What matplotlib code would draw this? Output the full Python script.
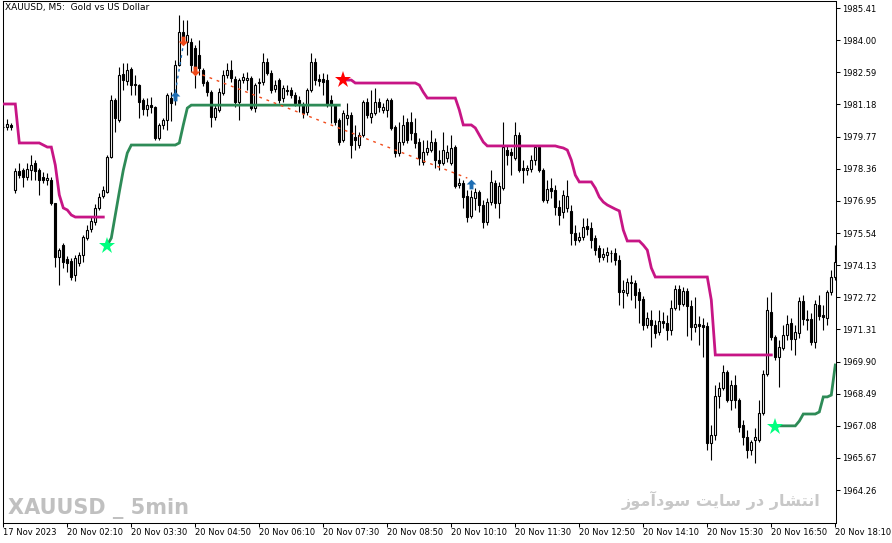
import numpy as np
import matplotlib
matplotlib.use('Agg')
import matplotlib.pyplot as plt
from matplotlib.path import Path

# XAUUSD M5 bars (bar 0 = 17 Nov close, bar 3 = Monday open gap)
opens = [
    1980.19, 1980.19, 1980.28, 1977.43, 1978.26, 1978.30, 1977.99, 1978.30, 1978.61, 1978.30,
    1977.99, 1977.86, 1977.86, 1976.86, 1974.49, 1975.01, 1974.40, 1974.31, 1973.70, 1974.23,
    1974.57, 1975.32, 1975.72, 1976.02, 1976.64, 1977.16, 1977.34, 1978.87, 1981.37, 1980.50,
    1982.51, 1982.21, 1982.73, 1982.03, 1982.03, 1981.37, 1980.98, 1981.15, 1981.07, 1979.71,
    1980.28, 1980.50, 1981.46, 1981.51, 1982.91, 1984.36, 1983.92, 1983.92, 1983.65, 1983.35,
    1982.69, 1982.16, 1981.72, 1980.63, 1980.94, 1981.68, 1982.47, 1982.69, 1982.30, 1981.29,
    1982.25, 1982.25, 1982.34, 1981.02, 1982.12, 1982.16, 1983.04, 1982.56, 1981.86, 1982.25,
    1981.46, 1981.77, 1981.81, 1981.59, 1981.37, 1981.15, 1980.85, 1981.81, 1983.04, 1982.30,
    1982.30, 1982.25, 1981.37, 1981.15, 1980.50, 1979.62, 1980.58, 1980.72, 1979.75, 1979.40,
    1979.84, 1981.29, 1980.63, 1980.80, 1981.29, 1980.94, 1980.94, 1981.37, 1980.19, 1979.05,
    1979.53, 1980.41, 1980.41, 1979.93, 1979.53, 1978.65, 1979.09, 1979.18, 1979.53, 1978.74,
    1978.61, 1978.83, 1978.61, 1979.31, 1977.65, 1977.73, 1977.16, 1976.29, 1977.08, 1977.34,
    1976.77, 1976.02, 1976.90, 1977.73, 1976.86, 1977.52, 1979.18, 1979.09, 1978.83, 1979.84,
    1978.39, 1978.30, 1978.35, 1978.74, 1979.31, 1978.30, 1976.99, 1977.52, 1977.43, 1976.68,
    1976.46, 1976.64, 1976.51, 1975.54, 1975.23, 1975.37, 1975.85, 1975.76, 1975.32, 1974.88,
    1974.49, 1974.57, 1974.66, 1974.66, 1974.36, 1972.95, 1972.91, 1973.39, 1973.35, 1972.95,
    1972.65, 1971.50, 1971.72, 1971.50, 1971.20, 1971.68, 1971.59, 1971.29, 1972.25, 1973.08,
    1972.43, 1972.99, 1972.33, 1971.42, 1971.55, 1971.50, 1971.46, 1966.33, 1966.68, 1968.39,
    1968.74, 1969.44, 1968.22, 1968.87, 1968.22, 1967.12, 1966.59, 1966.02, 1966.46, 1966.46,
    1967.65, 1969.36, 1972.08, 1970.98, 1970.10, 1970.50, 1971.07, 1971.59, 1970.89, 1971.15,
    1972.56, 1971.72, 1971.77, 1970.76, 1972.38, 1971.94, 1971.81, 1972.95, 1973.61,
]
highs = [
    1980.37, 1980.54, 1980.37, 1978.39, 1978.61, 1978.39, 1978.61, 1978.96, 1978.74, 1978.39,
    1978.22, 1978.17, 1977.99, 1976.86, 1974.88, 1975.10, 1974.53, 1974.44, 1974.57, 1974.71,
    1975.45, 1975.89, 1976.24, 1976.81, 1977.30, 1977.60, 1978.96, 1981.59, 1981.46, 1982.82,
    1983.00, 1983.00, 1982.82, 1982.47, 1982.08, 1981.46, 1981.46, 1981.51, 1981.11, 1980.37,
    1980.58, 1981.68, 1981.72, 1983.13, 1985.10, 1984.88, 1984.88, 1984.09, 1983.79, 1984.01,
    1982.78, 1982.25, 1981.81, 1981.20, 1981.90, 1982.69, 1983.00, 1983.13, 1982.43, 1982.34,
    1982.56, 1982.60, 1982.43, 1982.12, 1982.34, 1983.44, 1983.22, 1982.69, 1982.25, 1982.34,
    1982.03, 1982.03, 1981.94, 1981.72, 1981.55, 1981.29, 1981.90, 1983.44, 1983.22, 1982.51,
    1982.56, 1982.51, 1981.59, 1981.20, 1980.58, 1980.94, 1981.24, 1980.85, 1980.28, 1979.97,
    1981.37, 1981.46, 1981.81, 1981.90, 1981.46, 1981.24, 1981.46, 1981.46, 1980.28, 1980.41,
    1980.72, 1980.58, 1980.85, 1980.58, 1979.71, 1979.62, 1979.62, 1980.06, 1979.71, 1979.18,
    1979.97, 1979.40, 1979.84, 1979.40, 1977.95, 1977.86, 1977.43, 1977.43, 1977.52, 1977.43,
    1976.99, 1977.08, 1978.30, 1977.86, 1977.78, 1980.41, 1979.40, 1979.27, 1980.41, 1979.97,
    1978.74, 1978.52, 1978.96, 1979.40, 1979.40, 1978.39, 1977.86, 1977.95, 1977.65, 1976.99,
    1977.43, 1977.86, 1976.77, 1975.89, 1975.58, 1976.20, 1976.20, 1976.02, 1975.45, 1975.01,
    1974.88, 1974.93, 1974.79, 1974.88, 1974.57, 1973.48, 1973.57, 1973.70, 1973.48, 1973.13,
    1972.78, 1972.08, 1972.16, 1971.72, 1972.16, 1972.08, 1971.94, 1972.60, 1973.26, 1973.26,
    1973.17, 1973.13, 1972.60, 1972.73, 1971.90, 1971.81, 1971.64, 1967.12, 1968.87, 1969.01,
    1969.75, 1969.53, 1969.09, 1969.31, 1968.30, 1967.34, 1966.90, 1966.46, 1966.99, 1968.22,
    1969.53, 1972.73, 1972.95, 1971.07, 1970.85, 1971.50, 1971.94, 1971.81, 1971.50, 1972.73,
    1972.82, 1972.16, 1972.03, 1972.60, 1972.82, 1972.38, 1973.04, 1973.92, 1975.01,
]
lows = [
    1980.01, 1980.06, 1980.06, 1977.30, 1977.95, 1977.56, 1977.86, 1977.86, 1977.86, 1977.21,
    1977.73, 1977.65, 1976.77, 1974.05, 1973.26, 1974.01, 1973.83, 1973.48, 1973.44, 1974.09,
    1974.27, 1975.23, 1975.58, 1975.89, 1976.55, 1977.08, 1977.30, 1978.83, 1979.97, 1980.41,
    1981.81, 1982.03, 1981.59, 1981.59, 1980.58, 1980.72, 1980.67, 1980.80, 1979.62, 1979.62,
    1980.10, 1980.06, 1980.45, 1981.15, 1982.87, 1983.92, 1983.35, 1982.60, 1981.90, 1982.47,
    1981.99, 1981.55, 1980.19, 1980.50, 1980.85, 1981.59, 1982.34, 1982.16, 1981.07, 1980.50,
    1982.12, 1981.81, 1980.94, 1980.85, 1981.68, 1982.03, 1982.47, 1981.68, 1981.72, 1981.24,
    1981.29, 1981.59, 1981.46, 1981.11, 1980.85, 1980.58, 1980.72, 1981.72, 1982.03, 1981.99,
    1981.59, 1981.07, 1980.37, 1980.28, 1979.40, 1979.53, 1980.28, 1978.83, 1979.18, 1979.27,
    1979.75, 1980.58, 1980.37, 1980.72, 1980.85, 1980.80, 1980.63, 1980.06, 1978.87, 1978.92,
    1979.40, 1979.49, 1979.62, 1979.27, 1978.52, 1978.52, 1978.96, 1979.09, 1978.39, 1978.30,
    1978.52, 1978.65, 1978.52, 1977.52, 1977.52, 1976.64, 1976.02, 1976.20, 1976.55, 1976.46,
    1975.76, 1975.89, 1976.77, 1976.64, 1976.20, 1977.43, 1978.52, 1978.08, 1978.74, 1978.22,
    1977.73, 1978.08, 1978.22, 1978.52, 1978.22, 1976.90, 1976.86, 1977.08, 1976.33, 1975.89,
    1976.20, 1976.46, 1975.01, 1975.01, 1975.15, 1975.23, 1975.45, 1974.88, 1974.57, 1974.27,
    1974.36, 1974.27, 1974.27, 1974.14, 1972.38, 1972.25, 1972.78, 1972.60, 1972.25, 1971.59,
    1971.29, 1971.37, 1970.54, 1970.94, 1971.07, 1971.37, 1970.85, 1971.07, 1972.16, 1972.16,
    1972.33, 1971.02, 1970.85, 1971.20, 1970.63, 1970.10, 1966.02, 1965.58, 1966.46, 1967.87,
    1968.65, 1968.13, 1967.78, 1967.87, 1966.81, 1966.24, 1965.67, 1965.80, 1965.45, 1966.37,
    1967.56, 1969.27, 1970.85, 1969.97, 1968.79, 1970.41, 1970.85, 1970.41, 1970.19, 1970.94,
    1971.50, 1971.29, 1970.63, 1970.50, 1971.72, 1971.29, 1971.50, 1972.82, 1973.48,
]
closes = [
    1980.19, 1980.32, 1980.19, 1978.26, 1978.08, 1977.99, 1978.35, 1978.52, 1978.26, 1977.86,
    1977.86, 1977.95, 1976.86, 1974.49, 1974.79, 1974.27, 1974.23, 1973.61, 1974.44, 1974.57,
    1975.37, 1975.67, 1976.07, 1976.64, 1977.12, 1977.43, 1978.87, 1981.37, 1980.58, 1982.47,
    1982.25, 1982.69, 1982.03, 1982.08, 1981.29, 1980.98, 1981.15, 1981.07, 1979.71, 1980.28,
    1980.50, 1981.59, 1981.24, 1982.91, 1984.36, 1984.09, 1984.23, 1982.91, 1982.56, 1982.78,
    1982.12, 1981.72, 1980.63, 1981.02, 1981.72, 1982.47, 1982.69, 1982.34, 1981.29, 1982.25,
    1982.38, 1982.34, 1981.02, 1982.03, 1982.16, 1983.04, 1982.56, 1981.81, 1982.03, 1981.37,
    1981.90, 1981.81, 1981.59, 1981.24, 1981.24, 1980.80, 1981.81, 1983.04, 1982.25, 1982.21,
    1982.16, 1981.15, 1981.15, 1980.41, 1979.53, 1980.80, 1980.72, 1979.40, 1979.62, 1979.84,
    1981.29, 1980.72, 1980.80, 1981.29, 1981.07, 1981.07, 1981.37, 1980.15, 1979.05, 1979.53,
    1980.28, 1979.62, 1979.93, 1979.49, 1978.83, 1979.09, 1979.27, 1979.53, 1978.74, 1978.61,
    1979.18, 1979.09, 1979.27, 1977.60, 1977.73, 1977.12, 1976.24, 1977.12, 1977.34, 1976.77,
    1976.02, 1976.90, 1977.78, 1976.86, 1977.60, 1979.31, 1978.96, 1978.96, 1979.84, 1978.30,
    1978.30, 1978.39, 1978.74, 1979.31, 1978.30, 1976.99, 1977.47, 1977.38, 1976.68, 1976.33,
    1977.21, 1977.16, 1975.54, 1975.23, 1975.37, 1975.80, 1975.72, 1975.23, 1974.79, 1974.49,
    1974.62, 1974.71, 1974.66, 1974.36, 1972.95, 1973.04, 1973.39, 1973.35, 1972.82, 1972.60,
    1971.50, 1971.81, 1971.50, 1971.15, 1971.68, 1971.59, 1971.29, 1972.25, 1973.08, 1972.43,
    1972.99, 1972.33, 1971.42, 1971.55, 1971.46, 1971.42, 1966.33, 1966.68, 1968.39, 1968.74,
    1969.44, 1968.22, 1968.87, 1968.22, 1967.03, 1966.59, 1966.02, 1966.37, 1966.59, 1967.65,
    1969.36, 1972.16, 1970.98, 1970.10, 1970.54, 1971.07, 1971.55, 1970.89, 1971.20, 1972.56,
    1971.77, 1971.77, 1970.76, 1972.43, 1971.90, 1971.85, 1972.95, 1973.61, 1974.27,
]

# trailing stop lines (first bar index, values)
pink_1_start = 0
pink_1 = [
    1981.20, 1981.20, 1981.20, 1981.20, 1979.49, 1979.49, 1979.49, 1979.49, 1979.49, 1979.49,
    1979.40, 1979.31, 1979.31, 1978.52, 1977.21, 1976.64, 1976.55, 1976.33, 1976.24, 1976.24,
    1976.24, 1976.24, 1976.24, 1976.24, 1976.24, 1976.24,
]
green_1_start = 26
green_1 = [
    1975.01, 1975.32, 1976.33, 1977.34, 1978.30, 1979.05, 1979.40, 1979.40, 1979.40, 1979.40,
    1979.40, 1979.40, 1979.40, 1979.40, 1979.40, 1979.40, 1979.40, 1979.40, 1979.49, 1980.28,
    1981.02, 1981.15, 1981.15, 1981.15, 1981.15, 1981.15, 1981.15, 1981.15, 1981.15, 1981.15,
    1981.15, 1981.15, 1981.15, 1981.15, 1981.15, 1981.15, 1981.15, 1981.15, 1981.15, 1981.15,
    1981.15, 1981.15, 1981.15, 1981.15, 1981.15, 1981.15, 1981.15, 1981.15, 1981.15, 1981.15,
    1981.15, 1981.15, 1981.15, 1981.15, 1981.15, 1981.15, 1981.15, 1981.15, 1981.15,
]
pink_2_start = 85
pink_2 = [
    1982.25, 1982.25, 1982.25, 1982.12, 1982.12, 1982.12, 1982.12, 1982.12, 1982.12, 1982.12,
    1982.12, 1982.12, 1982.12, 1982.12, 1982.12, 1982.12, 1982.12, 1982.12, 1982.12, 1982.03,
    1981.72, 1981.46, 1981.46, 1981.46, 1981.46, 1981.46, 1981.46, 1981.46, 1981.46, 1980.94,
    1980.28, 1980.28, 1980.28, 1980.15, 1979.84, 1979.53, 1979.36, 1979.36, 1979.36, 1979.36,
    1979.36, 1979.36, 1979.36, 1979.36, 1979.36, 1979.36, 1979.36, 1979.36, 1979.36, 1979.36,
    1979.36, 1979.36, 1979.36, 1979.36, 1979.31, 1979.27, 1979.18, 1978.74, 1978.08, 1977.78,
    1977.78, 1977.78, 1977.78, 1977.51, 1977.12, 1976.90, 1976.77, 1976.68, 1976.59, 1976.51,
    1975.67, 1975.19, 1975.19, 1975.19, 1975.19, 1975.01, 1974.79, 1974.01, 1973.61, 1973.61,
    1973.61, 1973.61, 1973.61, 1973.61, 1973.61, 1973.61, 1973.61, 1973.61, 1973.61, 1973.61,
    1973.61, 1973.61, 1972.60, 1970.19, 1970.19, 1970.19, 1970.19, 1970.19, 1970.19, 1970.19,
    1970.19, 1970.19, 1970.19, 1970.19, 1970.19, 1970.19, 1970.19, 1970.19,
]
green_2_start = 193
green_2 = [
    1967.08, 1967.08, 1967.08, 1967.08, 1967.08, 1967.08, 1967.29, 1967.60, 1967.60, 1967.60,
    1967.60, 1967.69, 1968.35, 1968.35, 1968.43, 1969.75,
]

# signals
green_star_bars = [26, 193]
green_star_prices = [1974.97, 1967.03]
red_star_bars = [85]
red_star_prices = [1982.25]
blue_arrow_bars = [43, 117]
blue_arrow_prices = [1981.55, 1977.69]
red_arrow_bars = [45, 48]
red_arrow_prices = [1983.96, 1982.65]
blue_dash_bars = [43, 45]
blue_dash_prices = [1981.72, 1983.79]
red_dash_bars = [48, 116]
red_dash_prices = [1982.60, 1977.95]

price_ticks = [1964.26, 1965.67, 1967.08, 1968.49, 1969.90, 1971.31, 1972.72, 1974.13,
               1975.54, 1976.95, 1978.36, 1979.77, 1981.18, 1982.59, 1984.00, 1985.41]
time_labels = ['17 Nov 2023', '20 Nov 02:10', '20 Nov 03:30', '20 Nov 04:50', '20 Nov 06:10',
               '20 Nov 07:30', '20 Nov 08:50', '20 Nov 10:10', '20 Nov 11:30', '20 Nov 12:50',
               '20 Nov 14:10', '20 Nov 15:30', '20 Nov 16:50', '20 Nov 18:10']
bars_per_label = 16

plt.rcParams['font.family'] = ['DejaVu Sans']

W, H = 892, 543
fig = plt.figure(figsize=(W / 100, H / 100), dpi=100)
ax = fig.add_axes([2.5 / W, 20.5 / H, 833 / W, 522 / H])

o = np.array(opens)
h = np.array(highs)
l = np.array(lows)
c = np.array(closes)
x = np.arange(len(c))
up = c >= o

# candles
ax.vlines(x, l, h, color='black', lw=0.8, zorder=2)
ax.bar(x[up], (c - o)[up], bottom=o[up], width=0.55, facecolor='white',
       edgecolor='black', lw=0.8, zorder=3)
ax.bar(x[~up], (o - c)[~up], bottom=c[~up], width=0.55, facecolor='black',
       edgecolor='black', lw=0.8, zorder=3)

pink = '#C71585'
green = '#2E8B57'
for start, vals, col in [(pink_1_start, pink_1, pink), (green_1_start, green_1, green),
                         (pink_2_start, pink_2, pink), (green_2_start, green_2, green)]:
    ax.plot(np.arange(start, start + len(vals)), vals, color=col, lw=2.0,
            solid_joinstyle='miter', zorder=4)

# dashed zigzag style lines
ax.plot(blue_dash_bars, blue_dash_prices, color='#1E6EB4', lw=1, ls=(0, (2, 3)), zorder=4)
ax.plot(red_dash_bars, red_dash_prices, color='#F04A1A', lw=1, ls=(0, (2, 3.5)), zorder=4)

# arrow markers
up_arrow = Path([(0, 1), (-1, 0), (-0.4, 0), (-0.4, -1), (0.4, -1), (0.4, 0), (1, 0), (0, 1)],
                [Path.MOVETO] + [Path.LINETO] * 6 + [Path.CLOSEPOLY])
down_arrow = Path([(0, -1), (-1, 0), (-0.4, 0), (-0.4, 1), (0.4, 1), (0.4, 0), (1, 0), (0, -1)],
                  [Path.MOVETO] + [Path.LINETO] * 6 + [Path.CLOSEPOLY])
ax.plot(blue_arrow_bars, blue_arrow_prices, ls='none', marker=up_arrow, ms=7,
        color='#1E6EB4', mew=0, zorder=5)
ax.plot(red_arrow_bars, red_arrow_prices, ls='none', marker=down_arrow, ms=7,
        color='#F04A1A', mew=0, zorder=5)

# stars
ax.plot(green_star_bars, green_star_prices, ls='none', marker='*', ms=12.5,
        color='#00FF7F', mew=0, zorder=6)
ax.plot(red_star_bars, red_star_prices, ls='none', marker='*', ms=12.5,
        color='#FF0000', mew=0, zorder=6)

ax.set_xlim(-0.2, 208.05)
ax.set_ylim(1962.84, 1985.74)

# axes styling like the terminal
for s in ax.spines.values():
    s.set_linewidth(0.75)
    s.set_color('black')
ax.yaxis.tick_right()
ax.set_yticks(price_ticks)
ax.set_yticklabels([f'{p:.2f}' for p in price_ticks])
ax.tick_params(axis='y', direction='out', length=3, width=0.75, pad=1.5, labelsize=6)

tick_pos = np.arange(0, len(time_labels)) * bars_per_label
ax.set_xticks(tick_pos)
ax.set_xticklabels(time_labels, ha='left')
ax.tick_params(axis='x', direction='out', length=3, width=0.75, pad=1.0, labelsize=6)

fig.text(5 / W, 1 - 3 / H, 'XAUUSD, M5:  Gold vs US Dollar', fontsize=6.5,
         ha='left', va='top')

# watermarks
fig.text(8 / W, 1 - 514 / H, 'XAUUSD _ 5min', fontsize=15, fontweight='bold',
         family=['Liberation Sans Narrow', 'DejaVu Sans'], color='#C0C0C0',
         ha='left', va='baseline')
# "انتشار در سایت سودآموز" in Arabic presentation forms, visual order
fa_text = ('\uFEAF\uFEEE\uFEE3\uFE81\uFEA9\uFEEE\uFEB3 \uFE96\uFEF3\uFE8E\uFEB3 '
           '\uFEAD\uFEA9 \uFEAD\uFE8E\uFEB8\uFE98\uFEE7\uFE8D')
fig.text(820 / W, 1 - 506 / H, fa_text, fontsize=11.6, fontweight='bold', color='#C8C8C8',
         ha='right', va='baseline')

fig.savefig('out.png', dpi=100, facecolor='white')
